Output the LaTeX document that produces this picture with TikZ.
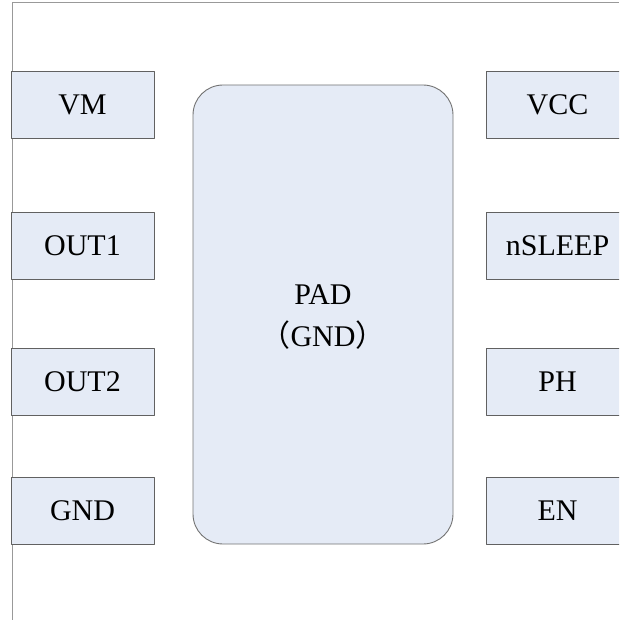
\documentclass[tikz,border=0pt]{standalone}
\usepackage{fontspec}
\setmainfont{Liberation Serif}
\newfontfamily\cjk{Noto Sans CJK SC}
\definecolor{padfill}{HTML}{E5EBF6}
\begin{document}
\begin{tikzpicture}[x=1pt,y=-1pt,line join=round,font=\fontsize{30}{42}\selectfont,
	pinbox/.style={draw=black!62,fill=padfill,line width=0.9pt,minimum width=143pt,minimum height=67pt,inner sep=0pt}]
	\useasboundingbox (0,0) rectangle (619,620);
	\clip (0,0) rectangle (619,620);
	\draw[black!40,line width=1pt] (12,620) -- (12,2.5) -- (619,2.5);
	\node[pinbox] (vm) at (82.5,104.5) {VM};
	\node[pinbox] (out1) at (82.5,246) {OUT1};
	\node[pinbox] (out2) at (82.5,382) {OUT2};
	\node[pinbox] (gnd) at (82.5,510.5) {GND};
	\node[pinbox] (vcc) at (557.5,104.5) {VCC};
	\node[pinbox] (nsleep) at (557.5,246) {nSLEEP};
	\node[pinbox] (ph) at (557.5,382) {PH};
	\node[pinbox] (en) at (557.5,510.5) {EN};
	\node[draw=black!55,fill=padfill,line width=0.9pt,rounded corners=30pt,minimum width=260pt,minimum height=459pt] (pad) at (323,314.5) {};
	\node[align=center] (padname) at (323,317) {PAD\\{\cjk （}GND{\cjk ）}};
\end{tikzpicture}
\end{document}
